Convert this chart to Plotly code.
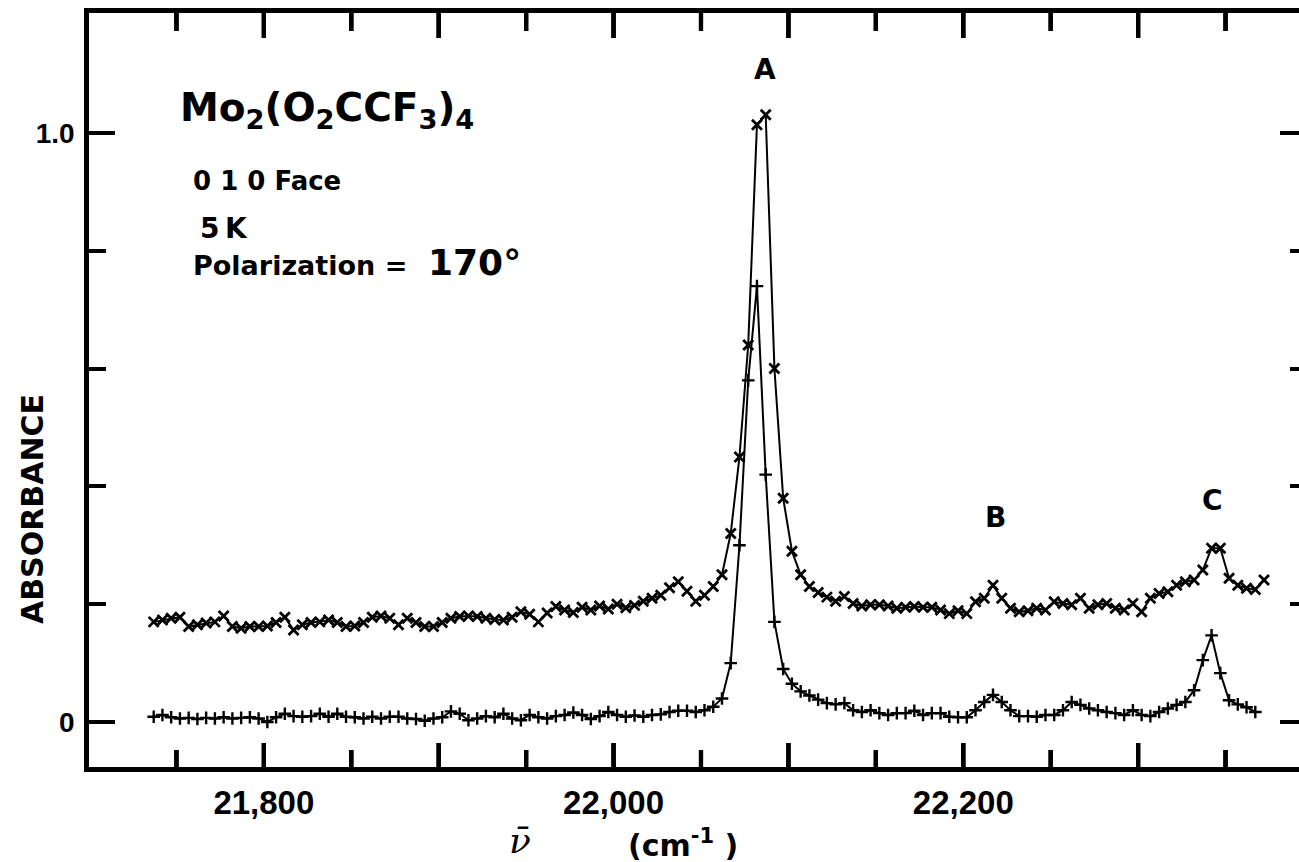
import plotly.graph_objects as go

# ---------------- data ----------------
WAVENUMBER = [
    21737, 21742, 21747, 21752, 21757, 21762, 21767, 21772, 21777, 21782,
    21787, 21792, 21797, 21802, 21807, 21812, 21817, 21822, 21827, 21832,
    21837, 21842, 21847, 21852, 21857, 21862, 21867, 21872, 21877, 21882,
    21887, 21892, 21897, 21902, 21907, 21912, 21917, 21922, 21927, 21932,
    21937, 21942, 21947, 21952, 21957, 21962, 21967, 21972, 21977, 21982,
    21987, 21992, 21997, 22002, 22007, 22012, 22017, 22022, 22027, 22032,
    22037, 22042, 22047, 22052, 22057, 22062, 22067, 22072, 22077, 22082,
    22087, 22092, 22097, 22102, 22107, 22112, 22117, 22122, 22127, 22132,
    22137, 22142, 22147, 22152, 22157, 22162, 22167, 22172, 22177, 22182,
    22187, 22192, 22197, 22202, 22207, 22212, 22217, 22222, 22227, 22232,
    22237, 22242, 22247, 22252, 22257, 22262, 22267, 22272, 22277, 22282,
    22287, 22292, 22297, 22302, 22307, 22312, 22317, 22322, 22327, 22332,
    22337, 22342, 22347, 22352, 22357, 22362, 22367, 22372,
]

# upper trace ("x" markers)
ABS_UPPER = [
    0.170, 0.173, 0.176, 0.178, 0.162, 0.165, 0.168, 0.170, 0.180, 0.162,
    0.159, 0.162, 0.162, 0.163, 0.169, 0.178, 0.156, 0.165, 0.169, 0.170,
    0.173, 0.169, 0.162, 0.163, 0.169, 0.178, 0.180, 0.176, 0.165, 0.176,
    0.169, 0.162, 0.162, 0.169, 0.176, 0.179, 0.180, 0.179, 0.176, 0.174,
    0.173, 0.178, 0.187, 0.183, 0.170, 0.185, 0.196,
    0.190, 0.186, 0.195, 0.190, 0.197, 0.192, 0.200, 0.194, 0.198, 0.205,
    0.210, 0.215, 0.228, 0.238, 0.222, 0.205, 0.215, 0.230, 0.250, 0.320,
    0.450, 0.640, 1.014, 1.031, 0.600, 0.380, 0.290, 0.250, 0.230, 0.220,
    0.212, 0.205,
    0.213, 0.201, 0.197, 0.199, 0.199, 0.197, 0.193, 0.195, 0.196, 0.195,
    0.195, 0.190, 0.184, 0.189, 0.184, 0.204, 0.210, 0.232, 0.210, 0.193,
    0.187, 0.189, 0.193, 0.190, 0.204, 0.201, 0.199, 0.210, 0.193, 0.199,
    0.201, 0.193, 0.190, 0.201, 0.187, 0.210, 0.218, 0.221, 0.232, 0.238,
    0.241, 0.258, 0.295, 0.295, 0.244, 0.232, 0.227, 0.225, 0.241,
]

# lower trace ("+" markers)
ABS_LOWER = [
    0.009, 0.012, 0.008, 0.006, 0.007, 0.005, 0.007, 0.006, 0.008, 0.006,
    0.007, 0.008, 0.006, 0.000, 0.008, 0.014, 0.010, 0.009, 0.010, 0.014,
    0.009, 0.014, 0.009, 0.008, 0.006, 0.009, 0.006, 0.009, 0.009, 0.006,
    0.005, 0.002, 0.006, 0.008, 0.018, 0.014, 0.003, 0.006, 0.010, 0.008,
    0.014, 0.006, 0.003, 0.012, 0.008, 0.006, 0.010,
    0.012, 0.016, 0.012, 0.005, 0.010, 0.017, 0.012, 0.009, 0.011, 0.009,
    0.012, 0.013, 0.017, 0.019, 0.019, 0.017, 0.020, 0.026,
    0.040, 0.100, 0.300, 0.580, 0.740, 0.420, 0.170, 0.090, 0.065, 0.052,
    0.045, 0.038, 0.032, 0.030,
    0.032, 0.020, 0.017, 0.020, 0.015, 0.012, 0.015, 0.015, 0.019, 0.012,
    0.015, 0.015, 0.009, 0.008, 0.008, 0.020, 0.034, 0.046, 0.034, 0.020,
    0.010, 0.010, 0.009, 0.012, 0.012, 0.020, 0.034, 0.029, 0.023, 0.020,
    0.017, 0.015, 0.012, 0.020, 0.012, 0.010, 0.017, 0.023, 0.029, 0.034,
    0.054, 0.105, 0.147, 0.083, 0.037, 0.030, 0.025, 0.017,
]

X_TICKS = [21800, 21900, 22000, 22100, 22200, 22300]
X_TICK_TEXT = ["21,800", " ", "22,000", " ", "22,200", " "]
X_MINOR = [21750, 21850, 21950, 22050, 22150, 22250, 22350]
Y_TICKS = [0, 1.0]
Y_TICK_TEXT = ["0", "1.0"]
Y_MINOR = [0.2, 0.4, 0.6, 0.8]
X_RANGE = [21700, 22392]
Y_RANGE = [-0.0764, 1.2037]

PEAK_LABELS = ["A", "B", "C"]

# ---------------- layout helpers ----------------
W, H = 1299, 862
ML, MR, MT, MB = 89, 0, 13, 95
PLOT_W = W - ML - MR
PLOT_H = H - MT - MB
UNITS_PER_PX = (X_RANGE[1] - X_RANGE[0]) / PLOT_W


def pxx(x):
    return (x - ML) / PLOT_W


def pyy(y):
    return (H - MB - y) / PLOT_H


BLACK = "#000000"
TXT = "DejaVu Sans"
TICKF = "Liberation Sans"

fig = go.Figure()

# x-axis tick marks on the bottom and top frame, as thin bars on a hidden 0..1 axis
bar_x, bar_base, bar_len = [], [], []
for vals, top_len, bot_len in ((X_TICKS, 25, 24), (X_MINOR, 18, 17)):
    for v in vals:
        bar_x += [v, v]
        bar_base += [1.0 - top_len / PLOT_H, 0.0]
        bar_len += [top_len / PLOT_H, bot_len / PLOT_H]
fig.add_trace(go.Bar(
    x=bar_x, y=bar_len, base=bar_base, width=4.2 * UNITS_PER_PX,
    yaxis="y3", marker=dict(color=BLACK, line=dict(width=0)),
    showlegend=False, hoverinfo="skip"))

# the same tick marks as line segments
tick_x, tick_y = [], []
for vals, top_len, bot_len in ((X_TICKS, 25, 24), (X_MINOR, 18, 17)):
    for v in vals:
        tick_x += [v, v, None, v, v, None]
        tick_y += [1.0, 1.0 - top_len / PLOT_H, None, 0.0, bot_len / PLOT_H, None]
fig.add_trace(go.Scatter(
    x=tick_x, y=tick_y, yaxis="y3", mode="lines",
    line=dict(color=BLACK, width=4), connectgaps=False,
    showlegend=False, hoverinfo="skip", cliponaxis=False))

fig.add_trace(go.Scatter(
    x=WAVENUMBER, y=ABS_UPPER, mode="lines+markers",
    line=dict(color=BLACK, width=2),
    marker=dict(symbol="x-thin", size=10, color=BLACK,
                line=dict(color=BLACK, width=2.8)),
    showlegend=False, hoverinfo="skip"))
fig.add_trace(go.Scatter(
    x=WAVENUMBER[:len(ABS_LOWER)], y=ABS_LOWER, mode="lines+markers",
    yaxis="y2",
    line=dict(color=BLACK, width=2),
    marker=dict(symbol="cross-thin", size=9, color=BLACK,
                line=dict(color=BLACK, width=2.4)),
    showlegend=False, hoverinfo="skip"))

# and once more as filled rectangles (x in axis units, height as plot fraction)
half_w = 2.1 * UNITS_PER_PX
shapes = []
for vals, top_len, bot_len in ((X_TICKS, 25, 24), (X_MINOR, 18, 17)):
    for v in vals:
        shapes.append(dict(type="rect", xref="x", yref="paper",
                           x0=v - half_w, x1=v + half_w,
                           y0=1.0 - top_len / PLOT_H, y1=1.0,
                           fillcolor=BLACK, line=dict(width=0), layer="above"))
        shapes.append(dict(type="rect", xref="x", yref="paper",
                           x0=v - half_w, x1=v + half_w,
                           y0=0.0, y1=bot_len / PLOT_H,
                           fillcolor=BLACK, line=dict(width=0), layer="above"))

fig.update_layout(
    width=W, height=H,
    margin=dict(l=ML, r=MR, t=MT, b=MB, pad=0),
    paper_bgcolor="white", plot_bgcolor="white",
    showlegend=False, barmode="overlay",
    shapes=shapes,
    xaxis=dict(
        range=X_RANGE, showgrid=False, zeroline=False,
        showline=True, linecolor=BLACK, linewidth=4.5, mirror=True,
        ticks="", tickmode="array", tickvals=X_TICKS, ticktext=X_TICK_TEXT,
        tickfont=dict(family=TICKF, size=33, color=BLACK, weight="bold"),
        ticklabelstandoff=3,
    ),
    yaxis=dict(
        range=Y_RANGE, showgrid=False, zeroline=False,
        showline=True, linecolor=BLACK, linewidth=4.5,
        ticks="inside", tickmode="array", tickvals=Y_TICKS, ticktext=Y_TICK_TEXT,
        ticklen=26, tickwidth=4, tickcolor=BLACK,
        tickfont=dict(family=TICKF, size=28, color=BLACK, weight="bold"),
        ticklabelstandoff=4,
        minor=dict(tickmode="array", tickvals=Y_MINOR, ticks="inside",
                   ticklen=17, tickwidth=4, tickcolor=BLACK, showgrid=False),
    ),
    yaxis2=dict(
        range=Y_RANGE, overlaying="y", side="right", anchor="x",
        showgrid=False, zeroline=False, showline=False, showticklabels=False,
        ticks="inside", tickmode="array", tickvals=Y_TICKS,
        ticklen=19, tickwidth=4, tickcolor=BLACK,
        minor=dict(tickmode="array", tickvals=Y_MINOR, ticks="inside",
                   ticklen=9, tickwidth=4, tickcolor=BLACK, showgrid=False),
    ),
    yaxis3=dict(range=[0, 1], overlaying="y", anchor="x", visible=False,
                showgrid=False, zeroline=False),
)

B = "bold"
ann = []
ann.append(dict(text="Mo<sub>2</sub>(O<sub>2</sub>CCF<sub>3</sub>)<sub>4</sub>",
                x=pxx(178), y=pyy(110), xanchor="left", yanchor="middle",
                font=dict(family=TXT, size=39, color=BLACK, weight=B)))
ann.append(dict(text="0 1 0 Face", x=pxx(191), y=pyy(181), xanchor="left", yanchor="middle",
                font=dict(family=TXT, size=26, color=BLACK, weight=B)))
ann.append(dict(text="5\u2009K", x=pxx(198), y=pyy(229), xanchor="left", yanchor="middle",
                font=dict(family=TXT, size=28, color=BLACK, weight=B)))
ann.append(dict(text="Polarization =", x=pxx(191), y=pyy(265), xanchor="left", yanchor="middle",
                font=dict(family=TXT, size=27, color=BLACK, weight=B)))
ann.append(dict(text="170°", x=pxx(426), y=pyy(262), xanchor="left", yanchor="middle",
                font=dict(family=TXT, size=36, color=BLACK, weight=B)))
for lab, (cx, cy) in zip(PEAK_LABELS, [(765, 70), (995, 517), (1212, 500)]):
    ann.append(dict(text=lab, x=pxx(cx), y=pyy(cy), xanchor="center", yanchor="middle",
                    font=dict(family=TXT, size=28, color=BLACK, weight=B)))
ann.append(dict(text="ABSORBANCE", x=pxx(32), y=pyy(509), xanchor="center", yanchor="middle",
                textangle=-90, font=dict(family=TXT, size=30, color=BLACK, weight=B)))
ann.append(dict(text="<i>ν̄</i>", x=pxx(520), y=pyy(840), xanchor="center", yanchor="middle",
                font=dict(family="DejaVu Serif", size=36, color=BLACK)))
ann.append(dict(text="(cm<sup>-1</sup> )", x=pxx(683), y=pyy(843), xanchor="center", yanchor="middle",
                font=dict(family=TXT, size=30, color=BLACK, weight=B)))
for a in ann:
    a.update(xref="paper", yref="paper", showarrow=False)
fig.update_layout(annotations=ann)

fig.write_html("out.html", config={"displayModeBar": False},
               post_script="document.body.style.margin='0';document.body.style.overflow='hidden';")
